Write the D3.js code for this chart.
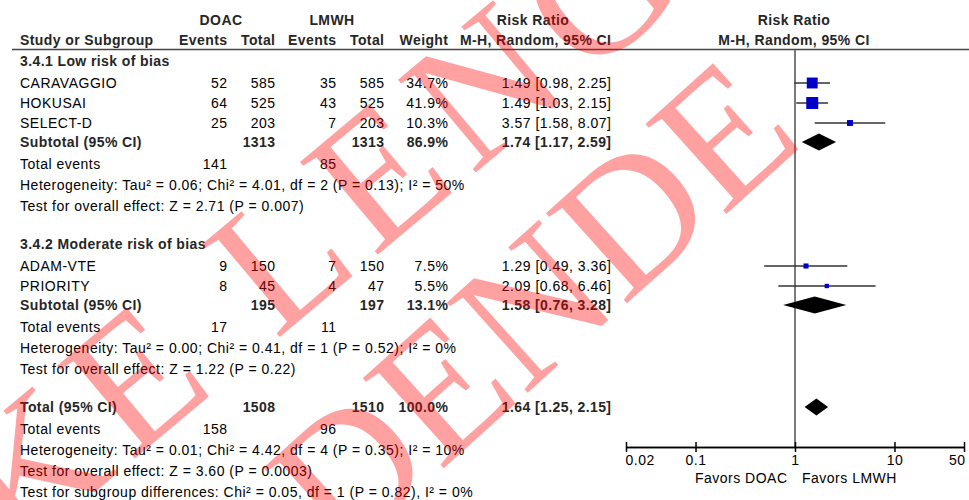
<!DOCTYPE html>
<html><head><meta charset="utf-8">
<script src="https://cdn.jsdelivr.net/npm/d3@7"></script>
<style>body{margin:0;background:#fff}svg{display:block}</style>
</head><body><svg id="c" width="969" height="500"></svg>
<script>
// ---------- data ----------
const studyNames  = ["CARAVAGGIO","HOKUSAI","SELECT-D","ADAM-VTE","PRIORITY"];
const studyGroup  = [0,0,0,1,1];
const doacEvents  = [52,64,25,9,8];
const doacTotal   = [585,525,203,150,45];
const lmwhEvents  = [35,43,7,7,4];
const lmwhTotal   = [585,525,203,150,47];
const weights     = [34.7,41.9,10.3,7.5,5.5];
const rr          = [1.49,1.49,3.57,1.29,2.09];
const rrLo        = [0.98,1.03,1.58,0.49,0.68];
const rrHi        = [2.25,2.15,8.07,3.36,6.46];

const groupTitles     = ["3.4.1 Low risk of bias","3.4.2 Moderate risk of bias"];
const groupDoacTotal  = [1313,195];
const groupLmwhTotal  = [1313,197];
const groupWeight     = [86.9,13.1];
const groupRR         = [1.74,1.58];
const groupLo         = [1.17,0.76];
const groupHi         = [2.59,3.28];
const groupDoacEvents = [141,17];
const groupLmwhEvents = [85,11];
const groupHet  = ["Heterogeneity: Tau² = 0.06; Chi² = 4.01, df = 2 (P = 0.13); I² = 50%",
                   "Heterogeneity: Tau² = 0.00; Chi² = 0.41, df = 1 (P = 0.52); I² = 0%"];
const groupTest = ["Test for overall effect: Z = 2.71 (P = 0.007)",
                   "Test for overall effect: Z = 1.22 (P = 0.22)"];

const overallDoacTotal = 1508, overallLmwhTotal = 1510, overallWeight = 100.0;
const overallRR = 1.64, overallLo = 1.25, overallHi = 2.15;
const overallDoacEvents = 158, overallLmwhEvents = 96;
const overallHet  = "Heterogeneity: Tau² = 0.01; Chi² = 4.42, df = 4 (P = 0.35); I² = 10%";
const overallTest = "Test for overall effect: Z = 3.60 (P = 0.0003)";
const subgroupTest = "Test for subgroup differences: Chi² = 0.05, df = 1 (P = 0.82), I² = 0%";

const axisTicks = [0.02,0.1,1,10,50];
const axisLeftLabel = "Favors DOAC", axisRightLabel = "Favors LMWH";
const watermarkLines = ["IKKE LENGER","GJELDENDE"];

// ---------- drawing ----------
const svg = d3.select("#c");
const FONT = "'Liberation Sans', Arial, sans-serif";
const FS = 14;
const col = {name:20, dEv:227, dTot:275, lEv:336, lTot:384, w:448, rr:611};
const fmtRR = (m,l,h)=> `${m.toFixed(2)} [${l.toFixed(2)}, ${h.toFixed(2)}]`;

const x = d3.scaleLog().domain([0.02,50]).range([626,964]);

function txt(xp, yp, s, opt={}) {
  const anchor = opt.anchor||"start";
  const ls = opt.bold?0.4:0.5;
  return svg.append("text").attr("x",anchor==="end"?xp+ls:xp).attr("y",yp).attr("dy","0.35em")
    .attr("font-family",FONT).attr("font-size",opt.size||FS)
    .attr("font-weight",opt.bold?"bold":"normal")
    .attr("letter-spacing",ls)
    .attr("fill",opt.bold?"#262626":"#000")
    .attr("text-anchor",anchor).text(s);
}

// headers
txt(221,20,"DOAC",{bold:true,anchor:"middle"});
txt(332,20,"LMWH",{bold:true,anchor:"middle"});
txt(533,20,"Risk Ratio",{bold:true,anchor:"middle"});
txt(794,20,"Risk Ratio",{bold:true,anchor:"middle"});
txt(col.name,40,"Study or Subgroup",{bold:true});
txt(col.dEv,40,"Events",{bold:true,anchor:"end"});
txt(col.dTot,40,"Total",{bold:true,anchor:"end"});
txt(col.lEv,40,"Events",{bold:true,anchor:"end"});
txt(col.lTot,40,"Total",{bold:true,anchor:"end"});
txt(col.w,40,"Weight",{bold:true,anchor:"end"});
txt(col.rr,40,"M-H, Random, 95% CI",{bold:true,anchor:"end"});
txt(794,40,"M-H, Random, 95% CI",{bold:true,anchor:"middle"});

svg.append("line").attr("x1",12).attr("x2",969).attr("y1",49.5).attr("y2",49.5)
  .attr("stroke","#444").attr("stroke-width",1.5);

// null line
const axisY = 447;
svg.append("line").attr("x1",x(1)).attr("x2",x(1)).attr("y1",50).attr("y2",axisY)
  .attr("stroke","#7a7a7a").attr("stroke-width",2);

const marks = svg.append("g");
function diamond(yc, m, l, h) {
  const hh = 8.5;
  marks.append("path").attr("d",
    `M${x(l)},${yc} L${x(m)},${yc-hh} L${x(h)},${yc} L${x(m)},${yc+hh} Z`).attr("fill","#000");
}

let y = 61;
groupTitles.forEach((title,g)=>{
  txt(col.name,y,title,{bold:true});
  y += 22;
  studyNames.forEach((n,i)=>{
    if (studyGroup[i]!==g) return;
    txt(col.name,y,n);
    txt(col.dEv,y,doacEvents[i],{anchor:"end"});
    txt(col.dTot,y,doacTotal[i],{anchor:"end"});
    txt(col.lEv,y,lmwhEvents[i],{anchor:"end"});
    txt(col.lTot,y,lmwhTotal[i],{anchor:"end"});
    txt(col.w,y,weights[i].toFixed(1)+"%",{anchor:"end"});
    txt(col.rr,y,fmtRR(rr[i],rrLo[i],rrHi[i]),{anchor:"end"});
    marks.append("line").attr("x1",x(rrLo[i])).attr("x2",x(rrHi[i]))
      .attr("y1",y).attr("y2",y).attr("stroke","#333").attr("stroke-width",1.6);
    const s = Math.max(4, 1.85*Math.sqrt(weights[i]));
    marks.append("rect").attr("x",x(rr[i])-s/2).attr("y",y-s/2)
      .attr("width",s).attr("height",s).attr("fill","#0000c8");
    y += 20;
  });
  y -= 1;
  txt(col.name,y,"Subtotal (95% CI)",{bold:true});
  txt(col.dTot,y,groupDoacTotal[g],{bold:true,anchor:"end"});
  txt(col.lTot,y,groupLmwhTotal[g],{bold:true,anchor:"end"});
  txt(col.w,y,groupWeight[g].toFixed(1)+"%",{bold:true,anchor:"end"});
  txt(col.rr,y,fmtRR(groupRR[g],groupLo[g],groupHi[g]),{bold:true,anchor:"end"});
  diamond(y,groupRR[g],groupLo[g],groupHi[g]);
  y += 22;
  txt(col.name,y,"Total events");
  txt(col.dEv,y,groupDoacEvents[g],{anchor:"end"});
  txt(col.lEv,y,groupLmwhEvents[g],{anchor:"end"});
  y += 21;
  txt(col.name,y,groupHet[g]);
  y += 21;
  txt(col.name,y,groupTest[g]);
  y += 38;
});

txt(col.name,y,"Total (95% CI)",{bold:true});
txt(col.dTot,y,overallDoacTotal,{bold:true,anchor:"end"});
txt(col.lTot,y,overallLmwhTotal,{bold:true,anchor:"end"});
txt(col.w,y,overallWeight.toFixed(1)+"%",{bold:true,anchor:"end"});
txt(col.rr,y,fmtRR(overallRR,overallLo,overallHi),{bold:true,anchor:"end"});
diamond(y,overallRR,overallLo,overallHi);
y += 22;
txt(col.name,y,"Total events");
txt(col.dEv,y,overallDoacEvents,{anchor:"end"});
txt(col.lEv,y,overallLmwhEvents,{anchor:"end"});
y += 21; txt(col.name,y,overallHet);
y += 21; txt(col.name,y,overallTest);
y += 21; txt(col.name,y,subgroupTest);

// axis
const fmtTick = d => String(d);
const axB = svg.append("g").attr("transform",`translate(0,${axisY})`)
  .call(d3.axisBottom(x).tickValues(axisTicks).tickFormat(fmtTick).tickSizeInner(5).tickSizeOuter(0).tickPadding(3));
const axT = svg.append("g").attr("transform",`translate(0,${axisY})`)
  .call(d3.axisTop(x).tickValues(axisTicks).tickFormat("").tickSizeInner(5).tickSizeOuter(0));
[axB,axT].forEach(a=>{
  a.selectAll("path,line").attr("stroke","#000").attr("stroke-width",1.5);
  a.selectAll("text").attr("font-family",FONT).attr("font-size",FS).attr("fill","#000").attr("letter-spacing",0.5);
});
axB.selectAll(".tick text").attr("text-anchor",(d,i)=> i===0?"start":(i===axisTicks.length-1?"end":"middle"))
  .attr("dx",(d,i)=> i===0?-1:(i===axisTicks.length-1?1:0));
txt(787,478,axisLeftLabel,{anchor:"end"});
txt(802,478,axisRightLabel,{anchor:"start"});

// watermark
const wm = svg.append("g").attr("pointer-events","none");
const wmCfg = [
  {pos:[-155.7,702.4], rot:-40, ls:15},
  {pos:[19.8,850], rot:-42, ls:0}
];
watermarkLines.forEach((s,i)=>{
  const c = wmCfg[i];
  wm.append("text").attr("transform",`translate(${c.pos[0]},${c.pos[1]}) rotate(${c.rot})`)
    .attr("text-anchor","start").attr("font-family","'Liberation Serif', 'Times New Roman', serif")
    .attr("font-size",185).attr("letter-spacing",c.ls)
    .attr("fill","#ff0000").attr("fill-opacity",0.37).text(s);
});
</script></body></html>
